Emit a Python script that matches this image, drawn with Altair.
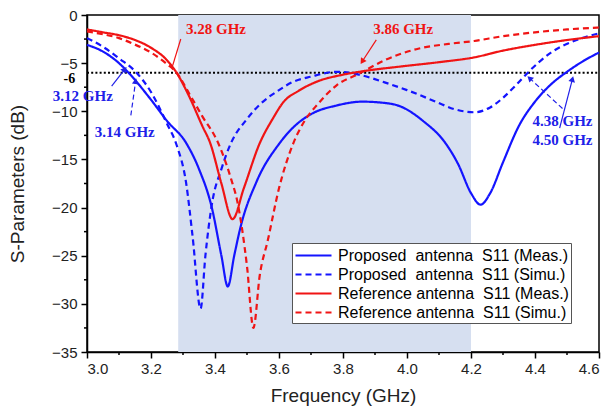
import math
import altair as alt
import pandas as pd

# ---------------- data ----------------
series_names = [
    "Proposed\u00a0 antenna\u00a0 S11 (Meas.)",
    "Proposed\u00a0 antenna\u00a0 S11 (Simu.)",
    "Reference antenna\u00a0 S11 (Meas.)",
    "Reference antenna\u00a0 S11 (Simu.)",
]

prop_meas_f = [3.0, 3.05, 3.1, 3.13, 3.2, 3.25, 3.31, 3.35, 3.39, 3.42, 3.44, 3.46, 3.48, 3.53, 3.6, 3.65,
               3.7, 3.78, 3.86, 3.92, 3.98, 4.05, 4.12, 4.16, 4.2, 4.23, 4.26, 4.3, 4.35, 4.4, 4.45, 4.5, 4.55, 4.6]
prop_meas_s = [-3.1, -3.8, -5.0, -6.0, -8.8, -11.0, -13.3, -16.0, -20.0, -25.0, -28.2, -25.0, -22.0, -17.3, -13.4, -11.5,
               -10.3, -9.4, -9.0, -9.1, -9.5, -11.0, -13.3, -15.5, -18.5, -19.7, -18.5, -15.3, -11.5, -9.0, -7.2, -5.9, -4.8, -3.9]

prop_simu_f = [3.0, 3.05, 3.1, 3.155, 3.2, 3.25, 3.28, 3.31, 3.33, 3.355, 3.37, 3.39, 3.42, 3.45, 3.5, 3.54, 3.6,
               3.64, 3.7, 3.78, 3.85, 3.93, 4.0, 4.09, 4.15, 4.21, 4.26, 4.3, 4.34, 4.38, 4.45, 4.53, 4.6]
prop_simu_s = [-2.4, -3.3, -4.5, -6.0, -8.0, -11.3, -13.5, -17.5, -23.0, -30.5, -25.0, -19.7, -16.0, -13.3, -10.8, -9.3, -7.8,
               -7.0, -6.4, -5.9, -6.2, -7.0, -7.8, -9.0, -9.8, -10.1, -9.6, -8.6, -7.3, -5.9, -3.9, -2.6, -1.9]

ref_meas_f = [3.0, 3.05, 3.1, 3.15, 3.2, 3.25, 3.28, 3.32, 3.36, 3.385, 3.42, 3.455, 3.49, 3.54, 3.58, 3.615,
              3.66, 3.72, 3.8, 3.87, 3.98, 4.1, 4.21, 4.3, 4.4, 4.5, 4.6]
ref_meas_s = [-1.5, -1.8, -2.1, -2.6, -3.4, -4.7, -6.0, -8.5, -11.5, -13.3, -17.5, -21.2, -18.0, -13.3, -10.8, -9.0,
              -7.9, -6.9, -6.2, -5.8, -5.35, -4.9, -4.4, -3.7, -3.1, -2.6, -2.2]

ref_simu_f = [3.0, 3.05, 3.1, 3.145, 3.2, 3.25, 3.28, 3.32, 3.36, 3.41, 3.45, 3.47, 3.5, 3.52, 3.54, 3.565, 3.6,
              3.645, 3.68, 3.72, 3.78, 3.85, 3.93, 4.035, 4.13, 4.21, 4.3, 4.4, 4.5, 4.6]
ref_simu_s = [-1.7, -2.0, -2.4, -3.0, -3.9, -5.1, -6.0, -8.2, -10.5, -13.3, -17.0, -19.4, -26.1, -32.5, -27.0, -23.4, -18.0,
              -13.3, -11.0, -9.3, -7.3, -6.1, -4.7, -3.5, -3.0, -2.7, -2.2, -1.8, -1.5, -1.3]

series_colors = ["#1414ff", "#1414ff", "#f01414", "#f01414"]
series_dashes = [[1, 0], [6, 4], [1, 0], [6, 4]]

x_ticks = [3.0, 3.2, 3.4, 3.6, 3.8, 4.0, 4.2, 4.4, 4.6]
x_minor = [3.1, 3.3, 3.5, 3.7, 3.9, 4.1, 4.3, 4.5]
y_ticks = [0, -5, -10, -15, -20, -25, -30, -35]
y_minor = [-2.5, -7.5, -12.5, -17.5, -22.5, -27.5, -32.5]

band_start = [3.285]
band_end = [4.2]
threshold = [-6]

# annotation labels
ann_text = ["3.28 GHz", "3.86 GHz", "3.12 GHz", "3.14 GHz", "4.38 GHz", "4.50 GHz"]
ann_f = [3.403, 3.988, 2.987, 3.118, 4.486, 4.486]
ann_s = [-1.47, -1.47, -8.45, -12.16, -11.04, -12.97]
ann_color = ["#f01414", "#f01414", "#2020e8", "#2020e8", "#2020e8", "#2020e8"]

# annotation arrows (start -> end)
arr_f1 = [3.293, 3.904, 3.077, 3.137, 4.486, 4.477]
arr_s1 = [-2.49, -2.59, -7.38, -10.43, -9.71, -11.75]
arr_f2 = [3.265, 3.860, 3.118, 3.152, 4.383, 4.517]
arr_s2 = [-5.54, -4.83, -5.65, -6.87, -6.56, -6.66]
arr_color = ["#f01414", "#f01414", "#2020e8", "#2020e8", "#2020e8", "#2020e8"]
arr_dashed = [False, False, False, True, True, False]
arr_head = [False, True, True, True, True, True]

# ---------------- build ----------------
W, H = 512, 337
PX_F = W / 1.6
PX_S = H / 35.0

xs = alt.Scale(domain=[3.0, 4.6], nice=False, zero=False)
ys = alt.Scale(domain=[-35, 0], nice=False, zero=False)
x_axis = alt.Axis(values=x_ticks, format=".1f", labelFontSize=15, titleFontSize=19,
                  tickSize=6, labelPadding=3, titlePadding=10, grid=False,
                  titleFontWeight="normal")
y_axis = alt.Axis(values=y_ticks, format="d", labelFontSize=15, titleFontSize=19,
                  tickSize=6, labelPadding=4, titlePadding=24, grid=False,
                  labelOverlap=False, titleFontWeight="normal")


def X(field):
    return alt.X(field, type="quantitative", scale=xs, axis=x_axis, title="Frequency (GHz)")


def Y(field):
    return alt.Y(field, type="quantitative", scale=ys, axis=y_axis, title="S-Parameters (dB)")


rows = []
for name, fl, sl in zip(series_names,
                        [prop_meas_f, prop_simu_f, ref_meas_f, ref_simu_f],
                        [prop_meas_s, prop_simu_s, ref_meas_s, ref_simu_s]):
    for f, s in zip(fl, sl):
        rows.append({"series": name, "f": f, "s": s})
lines_df = pd.DataFrame(rows)

band = alt.Chart(pd.DataFrame({"f": band_start, "f2": band_end})).mark_rect(
    color="#d6dff0").encode(
    x=X("f"), x2="f2:Q",
    y=alt.value(0), y2=alt.value(H))

thr = alt.Chart(pd.DataFrame({"s": threshold})).mark_rule(
    color="black", strokeDash=[2, 2.2], strokeWidth=2).encode(
    y=Y("s"), x=alt.value(0), x2=alt.value(W))

lines = alt.Chart(lines_df).mark_line(strokeWidth=2.2, interpolate="monotone").encode(
    x=X("f"),
    y=Y("s"),
    color=alt.Color("series:N", scale=alt.Scale(domain=series_names, range=series_colors),
                    legend=alt.Legend(title=None, orient="none", legendX=205, legendY=228,
                                      symbolType="M-2,0H2", symbolSize=324, symbolStrokeWidth=2.2,
                                      symbolOffset=9, labelOffset=14,
                                      labelFontSize=16, labelFont="Liberation Sans", labelColor="black",
                                      padding=2, rowPadding=-2,
                                      strokeColor="#555555", fillColor="white", labelLimit=400)),
    strokeDash=alt.StrokeDash("series:N", scale=alt.Scale(domain=series_names, range=series_dashes),
                              legend=None),
    order=alt.Order("f:Q"),
)

xminor = alt.Chart(pd.DataFrame({"f": x_minor})).mark_rule(color="black", strokeWidth=1.5).encode(
    x=X("f"), y=alt.value(H), y2=alt.value(H + 3))
yminor = alt.Chart(pd.DataFrame({"s": y_minor})).mark_rule(color="black", strokeWidth=1.5).encode(
    y=Y("s"), x=alt.value(0), x2=alt.value(-3))

arr_df = pd.DataFrame({"f": arr_f1, "s": arr_s1, "f2": arr_f2, "s2": arr_s2,
                       "c": arr_color, "dashed": arr_dashed, "head": arr_head})
arr_df["angle"] = [
    (math.degrees(math.atan2((b - a) * PX_F, (d - c) * PX_S)) + 360) % 360
    for a, b, c, d in zip(arr_f1, arr_f2, arr_s1, arr_s2)
]

arr_solid = alt.Chart(arr_df).transform_filter("!datum.dashed").mark_rule(strokeWidth=1.2).encode(
    x=X("f"), y=Y("s"), x2="f2:Q", y2="s2:Q", color=alt.Color("c:N", scale=None))
arr_dash = alt.Chart(arr_df).transform_filter("datum.dashed").mark_rule(strokeWidth=1.2, strokeDash=[5, 3]).encode(
    x=X("f"), y=Y("s"), x2="f2:Q", y2="s2:Q", color=alt.Color("c:N", scale=None))
heads = alt.Chart(arr_df).transform_filter("datum.head").mark_point(
    shape="triangle-up", filled=True, size=45, opacity=1).encode(
    x=X("f2"), y=Y("s2"),
    angle=alt.Angle("angle:Q", scale=None), color=alt.Color("c:N", scale=None))

labels = alt.Chart(pd.DataFrame({"t": ann_text, "f": ann_f, "s": ann_s, "c": ann_color})).mark_text(
    font="Liberation Serif", fontWeight="bold", fontSize=15, baseline="middle", align="center").encode(
    x=X("f"), y=Y("s"), text="t:N", color=alt.Color("c:N", scale=None))

six = alt.Chart(pd.DataFrame({"t": ["-6"], "f": [2.963], "s": [-6.65]})).mark_text(
    font="Liberation Serif", fontWeight="bold", fontSize=14, baseline="middle", align="right",
    color="black").encode(x=X("f"), y=Y("s"), text="t:N")

chart = alt.layer(band, thr, lines, xminor, yminor, arr_solid, arr_dash, heads, labels, six).properties(
    width=W, height=H,
    autosize=alt.AutoSizeParams(type="none"),
    padding={"left": 79, "top": 7, "right": 6, "bottom": 58},
).configure_view(stroke="black", strokeWidth=1.5).configure_axis(
    domainColor="black", domainWidth=1.5, tickColor="black", tickWidth=1.5,
    labelFont="Liberation Sans", titleFont="Liberation Sans", labelColor="#222222", titleColor="#222222"
)

chart.save("out.html", embed_options={"renderer": "svg", "actions": False})
